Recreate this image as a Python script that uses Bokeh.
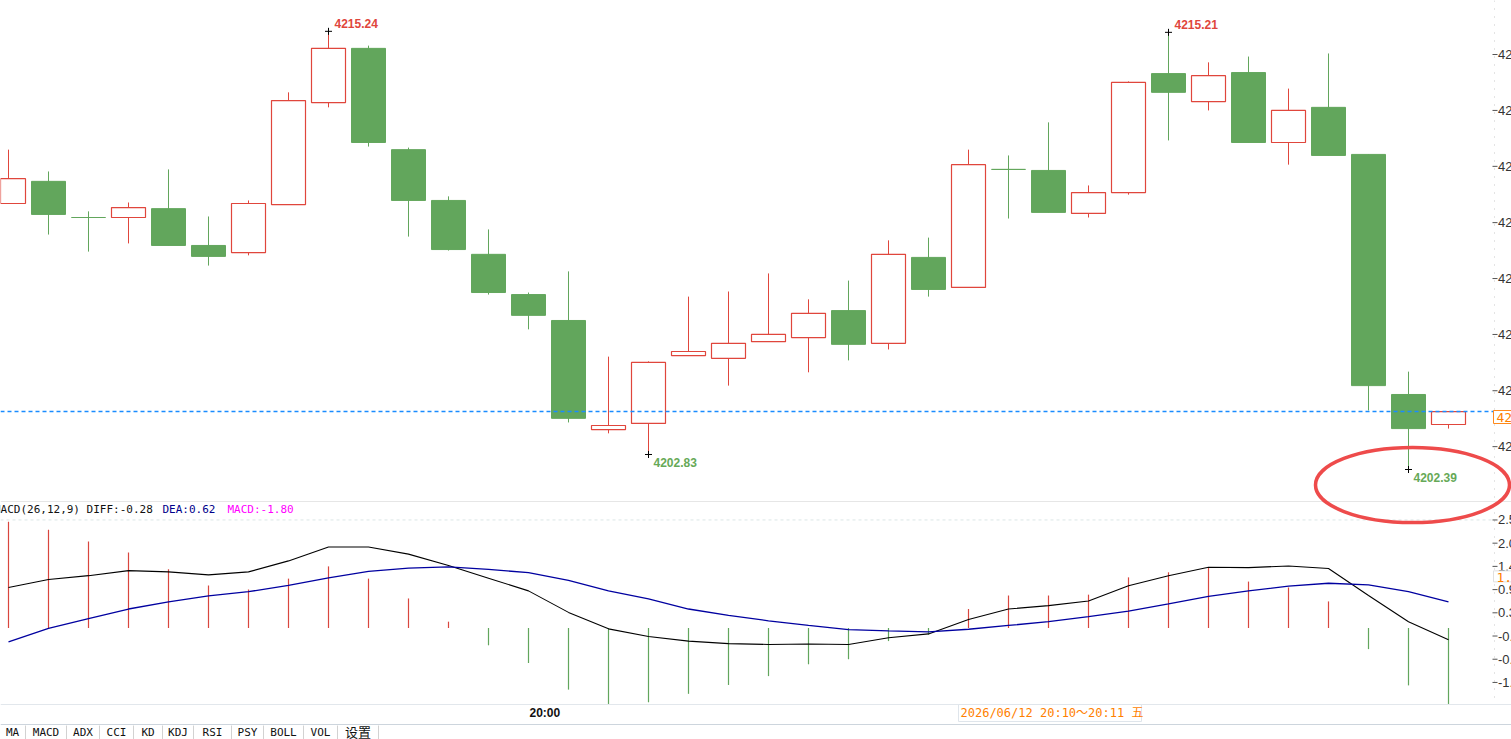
from bokeh.plotting import figure
from bokeh.models import Range1d, ColumnDataSource, Label
from bokeh.core.properties import value
from bokeh.embed import file_html
from bokeh.resources import INLINE

# ---------------- data ----------------
opens = [4210.19, 4210.84, 4209.78, 4209.78, 4210.04, 4208.96, 4208.75, 4210.16, 4213.15, 4214.74,
         4211.77, 4210.28, 4208.70, 4207.52, 4206.76, 4203.56, 4203.74, 4205.73, 4205.65, 4206.14,
         4206.26, 4207.05, 4206.09, 4208.61, 4207.73, 4211.19, 4211.16, 4209.90, 4210.51, 4214.00,
         4213.18, 4214.03, 4211.98, 4213.01, 4211.63, 4204.59, 4203.71]
highs = [4211.77, 4211.13, 4209.96, 4210.22, 4211.19, 4209.81, 4210.28, 4213.45, 4215.24, 4214.82,
         4211.83, 4210.40, 4209.43, 4207.58, 4208.20, 4205.70, 4205.56, 4207.46, 4207.61, 4208.14,
         4207.38, 4207.93, 4209.11, 4209.19, 4211.77, 4211.60, 4212.57, 4210.72, 4213.77, 4215.21,
         4214.33, 4214.50, 4213.56, 4214.59, 4211.63, 4205.26, 4204.09]
lows = [4210.19, 4209.28, 4208.78, 4209.02, 4208.96, 4208.37, 4208.67, 4210.16, 4213.01, 4211.86,
        4209.22, 4208.81, 4207.52, 4206.50, 4203.77, 4203.45, 4202.83, 4205.73, 4204.85, 4206.14,
        4205.24, 4205.59, 4205.91, 4207.46, 4207.73, 4209.75, 4209.93, 4209.78, 4210.45, 4212.04,
        4212.92, 4211.98, 4211.33, 4211.60, 4204.12, 4202.39, 4203.59]
closes = [4210.92, 4209.87, 4209.78, 4210.07, 4208.96, 4208.64, 4210.19, 4213.21, 4214.74, 4211.98,
          4210.28, 4208.84, 4207.58, 4206.91, 4203.89, 4203.68, 4205.53, 4205.85, 4206.09, 4206.35,
          4206.97, 4206.06, 4208.70, 4207.67, 4211.33, 4211.19, 4209.93, 4210.51, 4213.74, 4213.45,
          4213.94, 4211.98, 4212.92, 4211.60, 4204.85, 4203.59, 4204.09]

diff = [0.96, 1.15, 1.24, 1.36, 1.33, 1.26, 1.33, 1.59, 1.92, 1.92, 1.75, 1.48, 1.18, 0.88, 0.37,
        -0.02, -0.20, -0.31, -0.37, -0.39, -0.38, -0.39, -0.23, -0.14, 0.20, 0.45, 0.53, 0.64, 1.00,
        1.24, 1.44, 1.43, 1.47, 1.41, 0.77, 0.15, -0.28]
dea = [-0.33, -0.01, 0.22, 0.45, 0.62, 0.76, 0.86, 1.01, 1.19, 1.34, 1.42, 1.45, 1.39, 1.31, 1.13,
       0.88, 0.69, 0.45, 0.30, 0.17, 0.06, -0.04, -0.07, -0.09, -0.03, 0.06, 0.15, 0.27, 0.40, 0.57,
       0.75, 0.88, 0.99, 1.06, 1.02, 0.86, 0.62]
macd = [2.52, 2.33, 2.05, 1.79, 1.39, 1.01, 0.91, 1.17, 1.46, 1.17, 0.70, 0.15, -0.41, -0.83, -1.46,
        -1.80, -1.76, -1.56, -1.35, -1.14, -0.86, -0.74, -0.31, -0.16, 0.45, 0.77, 0.77, 0.79, 1.20,
        1.32, 1.42, 1.10, 0.96, 0.63, -0.50, -1.36, -1.80]

price_ticks = [4203.06, 4204.70, 4206.35, 4207.99, 4209.63, 4211.28, 4212.92, 4214.56]
macd_ticks = [2.56, 2.01, 1.46, 0.91, 0.36, -0.19, -0.74, -1.29]
last_price = 4204.09
macd_marker = 1.20
high_marks = [8, 29]
low_marks = [16, 35]
circled_low = 35
legend_parts = ["MACD(26,12,9) DIFF:-0.28", "DEA:0.62", "MACD:-1.80"]
time_label = "20:00"
time_label_bar = 13
date_label = "2026/06/12 20:10～20:11 五"
tab_labels = ["MA", "MACD", "ADX", "CCI", "KD", "KDJ", "RSI", "PSY", "BOLL", "VOL", "设置"]

# ---------------- layout helpers ----------------
W, H = 1511, 739
X0, BAR = 8.0, 40.0            # pixel of first bar centre, pixels per bar
P_REF, PY_REF, PPU = 4202.39, 469.0, 34.1   # price pane scale
M0, MPU = 627.5, 42.2          # macd pane zero pixel & px per unit


def X(px):
    return (px - X0) / BAR


def P(py):
    return P_REF + (PY_REF - py) / PPU


def M(py):
    return (M0 - py) / MPU


RED = "#e0463c"
GREEN = "#62a65c"
MONO = "'DejaVu Sans Mono', 'Noto Sans CJK SC'"

p = figure(width=W, height=H, x_range=Range1d(X(0), X(W)), y_range=Range1d(P(H), P(0)),
           x_axis_location=None, y_axis_location=None, toolbar_location=None,
           output_backend="svg", min_border=0, outline_line_color=None)
p.extra_y_ranges = {"macd": Range1d(M(H), M(0))}
p.grid.visible = False
p.background_fill_color = "white"
p.border_fill_color = "white"

n = len(opens)
idx = list(range(n))
up = [c > o for o, c in zip(opens, closes)]

# ---------------- frame lines ----------------
AX = X(1494)
p.segment(x0=[X(0)], y0=[P(501)], x1=[X(W)], y1=[P(501)], line_color="#e6e6e6", line_width=1)
p.segment(x0=[X(0)], y0=[P(704)], x1=[X(W)], y1=[P(704)], line_color="#e2e7ec", line_width=1)
p.segment(x0=[X(0)], y0=[P(724)], x1=[X(W)], y1=[P(724)], line_color="#cdd5dd", line_width=1)
p.segment(x0=[AX], y0=[P(0)], x1=[AX], y1=[P(704)], line_color="#c8c8c8", line_width=1,
          line_dash="1 7")
p.segment(x0=[X(0)], y0=[macd_ticks[0]], x1=[AX], y1=[macd_ticks[0]], y_range_name="macd",
          line_color="#dbe6e6", line_width=1, line_dash="3 3")

# ---------------- candles ----------------
p.segment(x0=idx, y0=lows, x1=idx, y1=highs,
          line_color=[RED if u else GREEN for u in up], line_width=1)
src_up = ColumnDataSource(dict(x=[i for i in idx if up[i]],
                               top=[closes[i] for i in idx if up[i]],
                               bot=[opens[i] for i in idx if up[i]]))
src_dn = ColumnDataSource(dict(x=[i for i in idx if not up[i]],
                               top=[opens[i] for i in idx if not up[i]],
                               bot=[closes[i] for i in idx if not up[i]]))
p.vbar(x="x", top="top", bottom="bot", width=0.85, source=src_dn,
       fill_color=GREEN, line_color=GREEN, line_width=1)
p.vbar(x="x", top="top", bottom="bot", width=0.85, source=src_up,
       fill_color="white", line_color=RED, line_width=1.2)

# current price line
p.segment(x0=[X(0)], y0=[last_price], x1=[AX], y1=[last_price],
          line_color="#1a8cff", line_width=1.4, line_dash="4 3")

# high / low marks
p.scatter(x=high_marks + low_marks, y=[highs[i] for i in high_marks] + [lows[i] for i in low_marks],
          marker="cross", size=7, line_color="black", line_width=1)
p.text(x=high_marks, y=[highs[i] for i in high_marks], text=["%.2f" % highs[i] for i in high_marks],
       x_offset=6, y_offset=-8, text_baseline="middle", text_align="left",
       text_font=value("Liberation Sans"), text_font_size="12px", text_font_style="bold",
       text_color=RED)
p.text(x=low_marks, y=[lows[i] for i in low_marks], text=["%.2f" % lows[i] for i in low_marks],
       x_offset=5, y_offset=8, text_baseline="middle", text_align="left",
       text_font=value("Liberation Sans"), text_font_size="12px", text_font_style="bold",
       text_color="#66a957")

# circle annotation
p.ellipse(x=[circled_low + 0.1], y=[lows[circled_low] - 15.5 / PPU], width=[194 / BAR],
          height=[75 / PPU], fill_color=None, line_color="#ee4b4b", line_width=3.5)

# ---------------- price axis ----------------
p.segment(x0=[X(1492)] * len(price_ticks), y0=price_ticks, x1=[X(1497)] * len(price_ticks),
          y1=price_ticks, line_color="#555555", line_width=1)
p.text(x=[X(1497.5)] * len(price_ticks), y=price_ticks, text=["%.2f" % t for t in price_ticks],
       text_baseline="middle", text_align="left", text_font=value("Liberation Sans"),
       text_font_size="13px", text_color="#333333")
p.quad(left=[X(1493)], right=[X(1520)], top=[P(410)], bottom=[P(423)],
       fill_color="white", line_color="#ff8a1c", line_width=1)
p.text(x=[X(1496)], y=[P(417)], text=["%.2f" % last_price], text_baseline="middle",
       text_align="left", text_font=value(MONO), text_font_size="13px", text_color="#ff7f00")

# ---------------- MACD pane ----------------
bar_cols = ["#d9463e" if v > 0 else GREEN for v in macd]
p.segment(x0=idx, y0=[0] * n, x1=idx, y1=macd, y_range_name="macd",
          line_color=bar_cols, line_width=1.2)
p.line(idx, diff, y_range_name="macd", line_color="black", line_width=1.1)
p.line(idx, dea, y_range_name="macd", line_color="#0000a0", line_width=1.3)

p.segment(x0=[X(1492)] * len(macd_ticks), y0=macd_ticks, x1=[X(1497)] * len(macd_ticks),
          y1=macd_ticks, y_range_name="macd", line_color="#555555", line_width=1)
p.text(x=[X(1497.5)] * len(macd_ticks), y=macd_ticks, text=["%.2f" % t for t in macd_ticks],
       y_range_name="macd", text_baseline="middle", text_align="left",
       text_font=value("Liberation Sans"), text_font_size="13px", text_color="#333333")
p.quad(left=[X(1493)], right=[X(1520)], top=[macd_marker + 6.5 / MPU],
       bottom=[macd_marker - 4.5 / MPU], y_range_name="macd",
       fill_color="white", line_color="#e0e0e0", line_width=1)
p.text(x=[X(1496)], y=[macd_marker], text=["%.2f" % macd_marker], y_range_name="macd",
       text_baseline="middle", text_align="left", text_font=value(MONO),
       text_font_size="13px", text_color="#ff7f00")

# legend
for txt, px, col in zip(legend_parts, [-6.6, 162, 227], ["#111111", "#00008b", "#ff00ff"]):
    p.add_layout(Label(x=X(px), y=P(509), text=txt, text_baseline="middle", text_align="left",
                       text_font=MONO, text_font_size="11px", text_color=col))

# ---------------- bottom strip ----------------
p.add_layout(Label(x=time_label_bar + 1 / BAR, y=P(712.5), text=time_label, text_baseline="middle",
                   text_align="left", text_font="Liberation Sans", text_font_size="12px",
                   text_font_style="bold", text_color="#111111"))
p.quad(left=[X(958)], right=[X(1141)], top=[P(704)], bottom=[P(721)],
       fill_color="white", line_color="#dfe5eb", line_width=1)
p.add_layout(Label(x=X(960), y=P(712.5), text=date_label, text_baseline="middle",
                   text_align="left", text_font=MONO, text_font_size="12px",
                   text_color="#ff7f00"))

seps = [25, 66, 99, 133, 162, 193, 231, 263, 303, 337, 378]
centers = [12, 45.5, 82.5, 116, 147.5, 177.5, 212, 247, 283, 320, 357.5]
p.segment(x0=[X(s) for s in seps], y0=[P(725)] * len(seps), x1=[X(s) for s in seps],
          y1=[P(739)] * len(seps), line_color="#d2d2d2", line_width=1)
for lab, cx in zip(tab_labels, centers):
    p.add_layout(Label(x=X(cx), y=P(732), text=lab, text_baseline="middle", text_align="center",
                       text_font=MONO, text_font_size="11px" if lab != "设置" else "13px",
                       text_color="#111111"))

open("out.html", "w").write(file_html(p, INLINE))
